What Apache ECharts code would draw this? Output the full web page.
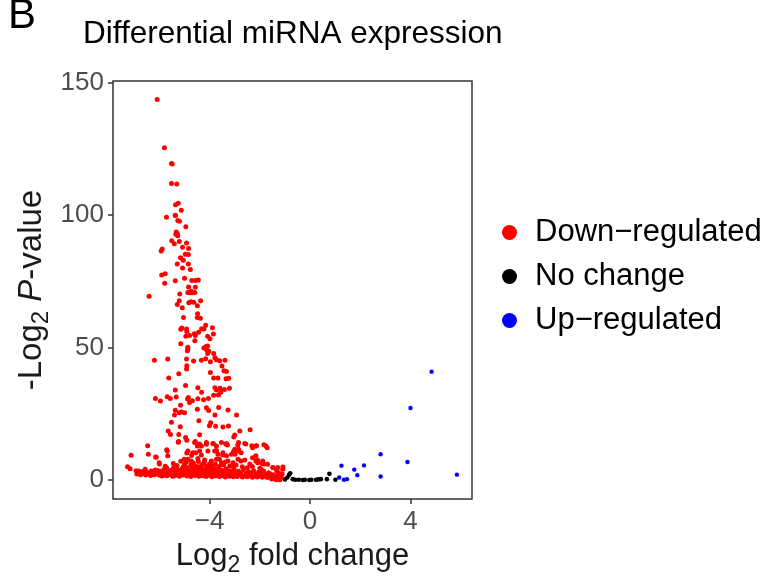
<!DOCTYPE html>
<html>
<head>
<meta charset="utf-8">
<script src="https://cdn.jsdelivr.net/npm/echarts@6/dist/echarts.min.js"></script>
<style>
  html, body { margin: 0; padding: 0; background: #fff; }
  #chart { width: 770px; height: 582px; }
</style>
</head>
<body>
<div id="chart"></div>
<script>
// 读图估计的数据：[log2 fold change, -log2 P-value]
const downRegulated = [
  [-6.09,143.7],[-5.8,125.5],[-5.52,119.5],[-5.49,119.3],[-5.52,112],[-5.31,111.8],[-5.36,104],[-5.25,104.5],[-5.13,101.9],[-5.36,100],
  [-5.72,99.2],[-5.37,99.9],[-5.27,98],[-5.2,97.7],[-4.95,95.6],[-5.33,93.7],[-5.29,93.1],[-5.35,92.8],[-5.27,92.2],[-5.51,90.4],
  [-5.41,89.2],[-5.21,90.1],[-4.92,89.5],[-5.08,87.9],[-4.84,87.4],[-5.89,87.2],[-5.93,86.5],[-4.97,85.3],[-4.85,85.2],[-5.16,83.9],
  [-5.05,83],[-5.29,81.6],[-4.85,81.6],[-5.08,80.1],[-4.77,79.5],[-5.91,77.4],[-5.77,77.9],[-5.79,74.3],[-5.37,75.2],[-5,76.2],
  [-4.71,75.3],[-4.57,75.3],[-4.45,75.5],[-4.84,72.9],[-4.57,72.8],[-4.73,71.3],[-4.87,70.8],[-4.8,70.7],[-4.67,70.7],[-4.59,70.8],
  [-5.19,70.2],[-6.41,69.4],[-5.21,67.7],[-5.29,66.3],[-4.83,66.9],[-4.75,67.3],[-4.63,67.1],[-4.49,65.8],[-4.36,67.7],[-5.09,65],
  [-4.48,62.8],[-4.49,61.4],[-4.37,61.1],[-5.04,61.4],[-5.15,56.9],[-5.11,57.4],[-4.92,57],[-4.91,56.1],[-4.16,58.4],[-4.32,57.1],
  [-4.23,57],[-3.89,57.5],[-4.44,55.8],[-4.61,55.2],[-4.8,54.6],[-4.95,54.3],[-4.57,54.6],[-4.08,54.3],[-3.85,55.1],[-3.99,53.3],
  [-5.15,51.4],[-4.87,50.1],[-4.16,50.3],[-4.08,50.6],[-4.23,49.8],[-4.59,52.6],
  [-4.87,49.4],[-4.89,48.8],[-4.12,49.2],[-4.03,48.6],[-4.08,47.8],[-3.84,47.8],[-3.79,46.2],[-3.73,45.4],[-6.2,45.2],[-5.67,45.7],
  [-4.92,45.7],[-4.64,44.9],[-4.33,45.2],[-4.16,45.8],[-3.97,44.6],[-3.6,45],[-3.39,45.2],[-4.91,43.1],[-4.92,41.9],[-3.51,43],
  [-3.43,41.2],[-3.33,41],[-5.23,40.1],[-3.97,40.6],[-5.63,38.5],[-3.67,38.5],[-3.84,38.5],[-3.24,38.4],[-3.35,38.2],[-4.96,35.7],
  [-4.47,34.8],[-3.79,34.8],[-3.73,34],[-3.59,34.6],[-3.41,34.2],[-3.21,34.6],[-5.37,34],[-4.32,33.1],[-3.84,32],[-6.16,30.8],
  [-5.96,29.8],[-5.69,31.4],[-5.57,30.8],[-5.33,31.3],[-4.88,30.6],[-4.85,31.1],[-4.69,29.9],[-4.47,30.7],[-4.24,30.3],[-4.05,30.8],
  [-3.65,32.1],[-3.56,33.1],[-5.16,28.2],[-5.13,25.7],[-5.37,26.3],[-5.4,24.5],[-5.21,25.4],[-5,25.4],[-4.8,29.3],[-4.49,26.7],
  [-4.13,27.3],[-4.04,26.2],[-3.64,27.4],[-3.27,26.4],[-3.79,24.5],[-2.93,24.5],[-5.52,21.8],[-5.17,20.1],[-4.43,22.4],[-3.96,21.6],
  [-4.01,20.5],[-3.76,20.3],[-3.47,20],[-3.25,20.4],[-2.8,18.5],[-2.39,19],[-5.65,18.5],[-5.56,17.2],[-5.23,17.2],[-4.96,16],
  [-4.91,15],[-4.4,17.1],[-5.25,14.2],[-4.57,14.5],[-4.4,13.6],[-4.13,13.5],[-3.85,13.7],[-3,17],[-3.04,16.2],[-3.36,13.6],
  [-3.29,13.2],[-2.88,13.2],[-2.56,13.6],[-2.32,12.9],[-2.13,12.9],[-1.84,13.3],[-1.71,12.2],[-6.47,12.9],[-6.44,9.7],[-7.13,9.3],
  [-5.69,10.9],[-5.67,9.1],[-6.15,8.7],[-6,6],[-4.91,10.2],[-4.72,9.2],[-4.56,10.3],[-4.33,9.4],[-3.73,11.1],[-3.48,9.4],
  [-3.61,7.8],[-3.05,10.7],[-2.99,9.7],[-2.75,10.3],[-2.16,9.1],[-2.09,7.5],[-1.92,6.2],[-1.84,6],[-2.6,7.5],[-2.4,6],
  [-1.08,4.9],[-7.27,5],[-7.17,4.2],[-6.93,3.5],[-6.83,3.4],
  [-1.47,4.6],[-1.33,3.4],[-1.11,2.2],[-1.57,2.2],[-1.53,0.4],[-1.36,0.1],[-1.2,0.1],
  [-5.24,14.5],[-5.71,11.4],[-6.13,8.6],[-6.01,6.5],[-5.77,5.2],[-5.71,4.5],[-5.44,4.5],[-5.33,4.3],[-6.57,4],[-6.47,2.8],
  [-6.33,3.4],[-6.17,3.8],[-6.07,3.6],[-5.96,2.8],[-5.85,2.3],[-5.75,2.3],[-5.61,2.1],[-5.47,1.4],[-5.4,1.6],[-5.27,1.9],
  [-5.13,2.5],[-5.03,2.8],[-5,5.9],[-4.93,6.8],[-4.87,7.8],[-4.91,4.6],[-5,4],
  [-4.6,14.1],[-4.49,12.8],[-4.33,12.8],[-4.13,14.1],[-3.87,13.8],[-3.73,12.8],[-3.53,14.1],[-3.33,13.8],[-3,11.6],[-2.87,10.9],
  [-4.87,10.9],[-4.67,10.3],[-4.4,10.9],[-4.07,10.9],[-3.8,10.9],[-3.67,9.7],[-3.47,10.3],[-3.33,9.1],[-3.13,9.7],[-5.01,7.8],
  [-4.73,7.2],[-4.47,8.1],[-4.2,7.5],[-3.93,7.2],[-3.73,7.8],[-3.53,6.5],[-3.27,7.2],[-3.07,6.5],[-2.87,7.8],
  [-2.85,14.1],[-2.6,13.8],[-2.29,12.2],[-2.16,12.8],[-1.76,12.8],[-2.85,11.6],[-2.76,7.2],[-2.29,8.4],[-2.16,7.2],[-2.09,6.5],
  [-1.89,7.2],[-1.69,5.9],[-1.49,4.7],[-1.29,4.7],[-1.09,4],
  // 底部密集带
  [-6.7,3.1],[-6.6,2.6],[-6.4,2.3],[-6.25,2.7],[-6.1,2.4],[-5.95,3.3],[-5.82,3.9],[-5.65,3.0],[-5.55,3.6],[-5.38,3.2],
  [-5.22,3.7],[-5.1,4.2],[-4.98,3.3],[-4.85,3.9],[-4.78,2.9],[-4.7,4.4],[-4.62,3.5],[-4.55,2.8],[-4.48,4.1],[-4.4,3.3],
  [-4.32,4.6],[-4.25,3.0],[-4.18,3.8],[-4.1,2.7],[-4.02,4.3],[-3.95,3.4],[-3.88,2.9],[-3.8,3.9],[-3.72,3.1],[-3.65,4.5],
  [-3.58,2.8],[-3.5,3.6],[-3.42,3.0],[-3.35,4.2],[-3.27,2.6],[-3.2,3.4],[-3.1,2.9],[-3.02,3.8],[-2.95,2.5],[-2.85,3.3],
  [-2.75,2.7],[-2.65,3.9],[-2.55,2.4],[-2.45,3.1],[-2.35,2.6],[-2.25,3.5],[-2.15,2.2],[-2.05,2.9],[-1.95,2.5],[-1.85,3.4],
  [-1.75,2.1],[-1.65,2.7],[-1.45,1.9],[-1.25,2.6],
  [-6.9,2.2],[-6.75,2.0],[-6.55,1.9],[-6.35,1.7],[-6.2,2.0],[-6.0,1.8],[-5.9,1.5],[-5.8,1.9],[-5.7,1.6],[-5.6,2.5],
  [-5.5,1.8],[-5.35,2.3],[-5.2,1.4],[-5.05,1.9],[-4.95,2.2],[-4.9,1.5],[-4.82,2.0],[-4.75,1.3],[-4.66,2.4],[-4.58,1.7],
  [-4.5,2.1],[-4.43,1.4],[-4.36,2.3],[-4.28,1.6],[-4.2,2.0],[-4.14,1.3],[-4.06,2.2],[-3.98,1.7],[-3.91,1.2],[-3.84,2.1],
  [-3.76,1.5],[-3.68,1.9],[-3.61,1.3],[-3.54,2.2],[-3.46,1.6],[-3.38,1.1],[-3.3,1.9],[-3.22,1.4],[-3.14,2.1],[-3.06,1.2],
  [-2.98,1.7],[-2.9,1.3],[-2.8,1.9],[-2.7,1.1],[-2.6,1.6],[-2.5,1.2],[-2.4,1.8],[-2.3,1.0],[-2.2,1.5],[-2.1,1.1],
  [-2.0,1.7],[-1.9,1.0],[-1.8,1.4],[-1.7,0.9],[-1.6,1.3],[-1.4,1.0],[-1.3,1.4],[-1.15,1.0],
  [-5.45,6.2],[-5.3,5.5],[-5.15,7.1],[-5.05,5.0],[-4.75,5.6],[-4.65,6.4],[-4.52,5.1],[-4.45,7.0],[-4.3,5.8],[-4.22,6.6],
  [-4.12,5.2],[-4.0,6.1],[-3.9,5.4],[-3.78,6.0],[-3.62,5.1],[-3.45,5.7],[-3.38,6.8],[-3.2,5.3],[-3.05,4.9],[-2.95,5.6],
  [-2.7,5.0],[-2.5,4.6],[-2.3,5.1],[-2.0,4.4],[-1.95,4.0],[-4.95,4.9],[-4.6,4.7],[-4.38,5.0],[-4.05,4.8],[-3.85,4.6]
];

const noChange = [
  [-1.0,0.2],[-0.91,0.9],[-0.84,1.9],[-0.79,2.5],[-0.69,0.3],[-0.59,0.1],[-0.45,0.1],[-0.29,0.0],[-0.21,0.1],
  [-0.03,0.0],[0.05,0.1],[0.24,0.1],[0.33,0.2],[0.43,0.3],[0.67,0.3],[0.77,2.3],[1.01,0.1]
];

const upRegulated = [
  [4.84,40.9],[4.0,27.2],[2.81,9.7],[3.88,6.8],[5.85,2.0],[1.25,5.4],[2.15,5.5],[1.76,3.9],
  [1.88,1.8],[2.81,1.3],[1.16,0.9],[1.35,0.1],[1.47,0.3]
];

const xTicks = [-4, 0, 4];
const yTicks = [0, 50, 100, 150];

const FONT = "'Liberation Sans', Arial, sans-serif";
const chart = echarts.init(document.getElementById('chart'), null, { renderer: 'canvas' });

const tickLabel = { color: '#4d4d4d', fontSize: 26, fontFamily: FONT };
const tickStyle = { show: true, length: 5, lineStyle: { color: '#333', width: 1.5 } };

chart.setOption({
  animation: false,
  backgroundColor: '#fff',
  textStyle: { fontFamily: FONT },
  title: {
    text: 'Differential miRNA expression',
    left: 78, top: 13,
    textStyle: { fontSize: 31.5, fontWeight: 'normal', color: '#000', fontFamily: FONT }
  },
  graphic: [{
    type: 'text', left: 8, top: -5,
    style: { text: 'B', fontSize: 42, fill: '#000', fontFamily: FONT }
  }],
  legend: {
    orient: 'vertical',
    left: 497, top: 212,
    icon: 'circle',
    itemWidth: 15, itemHeight: 15,
    itemGap: 13,
    textStyle: { fontSize: 31, color: '#000', fontFamily: FONT, padding: [0, 0, 0, 13] },
    data: ['Down−regulated', 'No change', 'Up−regulated']
  },
  grid: {
    left: 113, top: 81, right: 298, bottom: 83,
    outerBoundsMode: 'none',
    show: true, borderColor: '#333', borderWidth: 1.5, backgroundColor: '#fff'
  },
  xAxis: {
    type: 'value', min: -7.85, max: 6.45,
    splitLine: { show: false },
    axisLine: { show: false, onZero: false },
    axisTick: Object.assign({ customValues: xTicks }, tickStyle),
    axisLabel: Object.assign({ margin: 10, customValues: xTicks, formatter: v => String(v).replace('-', '−') }, tickLabel),
    name: '{n|Log}{s|2}{n| fold change}',
    nameLocation: 'middle', nameGap: 37,
    nameTextStyle: {
      rich: {
        n: { fontSize: 31, color: '#1a1a1a', fontFamily: FONT },
        s: { fontSize: 23, color: '#1a1a1a', fontFamily: FONT, padding: [18, 0, 0, 0] }
      }
    }
  },
  yAxis: {
    type: 'value', min: -7.2, max: 150.7,
    splitLine: { show: false },
    axisLine: { show: false, onZero: false },
    axisTick: Object.assign({ customValues: yTicks }, tickStyle),
    axisLabel: Object.assign({ margin: 9, customValues: yTicks }, tickLabel),
    name: '{n|-Log}{s|2}{i| P}{n|-value}',
    nameLocation: 'middle', nameGap: 60, nameRotate: 90,
    nameTextStyle: {
      rich: {
        n: { fontSize: 33, color: '#1a1a1a', fontFamily: FONT },
        i: { fontSize: 33, color: '#1a1a1a', fontFamily: FONT, fontStyle: 'italic' },
        s: { fontSize: 24, color: '#1a1a1a', fontFamily: FONT, padding: [18, 0, 0, 0] }
      }
    }
  },
  series: [
    { name: 'Down−regulated', type: 'scatter', data: downRegulated, symbolSize: 5,
      itemStyle: { color: '#ff0000', opacity: 1 } },
    { name: 'No change', type: 'scatter', data: noChange, symbolSize: 4.6,
      itemStyle: { color: '#000000', opacity: 1 } },
    { name: 'Up−regulated', type: 'scatter', data: upRegulated, symbolSize: 4.4,
      itemStyle: { color: '#0000ff', opacity: 1 } }
  ]
});
</script>
</body>
</html>
